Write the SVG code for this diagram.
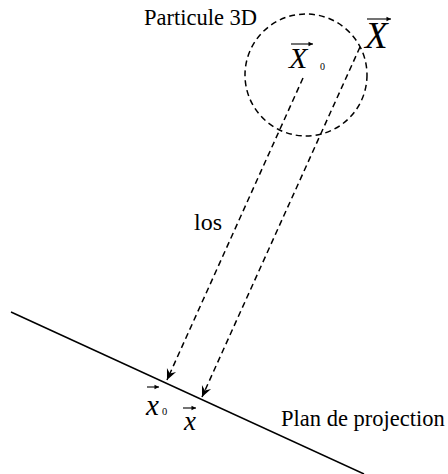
<svg xmlns="http://www.w3.org/2000/svg" width="448" height="474" viewBox="0 0 448 474">
<defs>
<style>
.lbl{font-family:"Liberation Serif","Times New Roman",serif;fill:#000}
.it{font-style:italic}
.dash{fill:none;stroke:#000;stroke-width:1.5;stroke-dasharray:6 4}
.vec{stroke:#000;stroke-width:1.1;fill:none}
</style>
<marker id="ah" viewBox="-12 -6 13 12" refX="0" refY="0" markerWidth="13" markerHeight="12" markerUnits="userSpaceOnUse" orient="auto">
<path d="M0,0 L-11,-5 L-7,0 L-11,5 Z" fill="#000"/>
</marker>
<marker id="sh" viewBox="-5 -3 6 6" refX="0" refY="0" markerWidth="6" markerHeight="6" markerUnits="userSpaceOnUse" orient="auto">
<path d="M0,0 L-4.5,-2.2 L-4.5,2.2 Z" fill="#000"/>
</marker>
</defs>
<rect width="448" height="474" fill="#fff"/>
<g id="particle">
<circle class="dash" cx="306" cy="75" r="61"/>
<text class="lbl" x="144" y="25" font-size="22.5">Particule 3D</text>
</g>
<g id="X0">
<line class="vec" x1="291" y1="44" x2="313" y2="44" marker-end="url(#sh)"/>
<text class="lbl it" x="289" y="68" font-size="30">X</text>
<text class="lbl" x="320" y="70" font-size="10">0</text>
</g>
<g id="X">
<line class="vec" x1="367" y1="19" x2="391" y2="19" marker-end="url(#sh)"/>
<text class="lbl it" x="365" y="48" font-size="37">X</text>
</g>
<g id="plane">
<line x1="11" y1="312" x2="364" y2="474" stroke="#000" stroke-width="1.5"/>
<text class="lbl" x="281" y="426" font-size="22.5">Plan de projection</text>
</g>
<g id="x0">
<line class="vec" x1="147" y1="387" x2="159" y2="387" marker-end="url(#sh)"/>
<text class="lbl it" x="146" y="415" font-size="29">x</text>
<text class="lbl" x="162" y="415" font-size="10.5">0</text>
</g>
<g id="x">
<line class="vec" x1="183" y1="408" x2="196" y2="408" marker-end="url(#sh)"/>
<text class="lbl it" x="184" y="430" font-size="27">x</text>
</g>
<g id="los">
<text class="lbl" x="194" y="230" font-size="24">los</text>
</g>
<g id="connectors">
<line class="dash" x1="303" y1="78" x2="167" y2="380" marker-end="url(#ah)"/>
<line class="dash" x1="360" y1="47" x2="202" y2="397" marker-end="url(#ah)"/>
</g>
</svg>
